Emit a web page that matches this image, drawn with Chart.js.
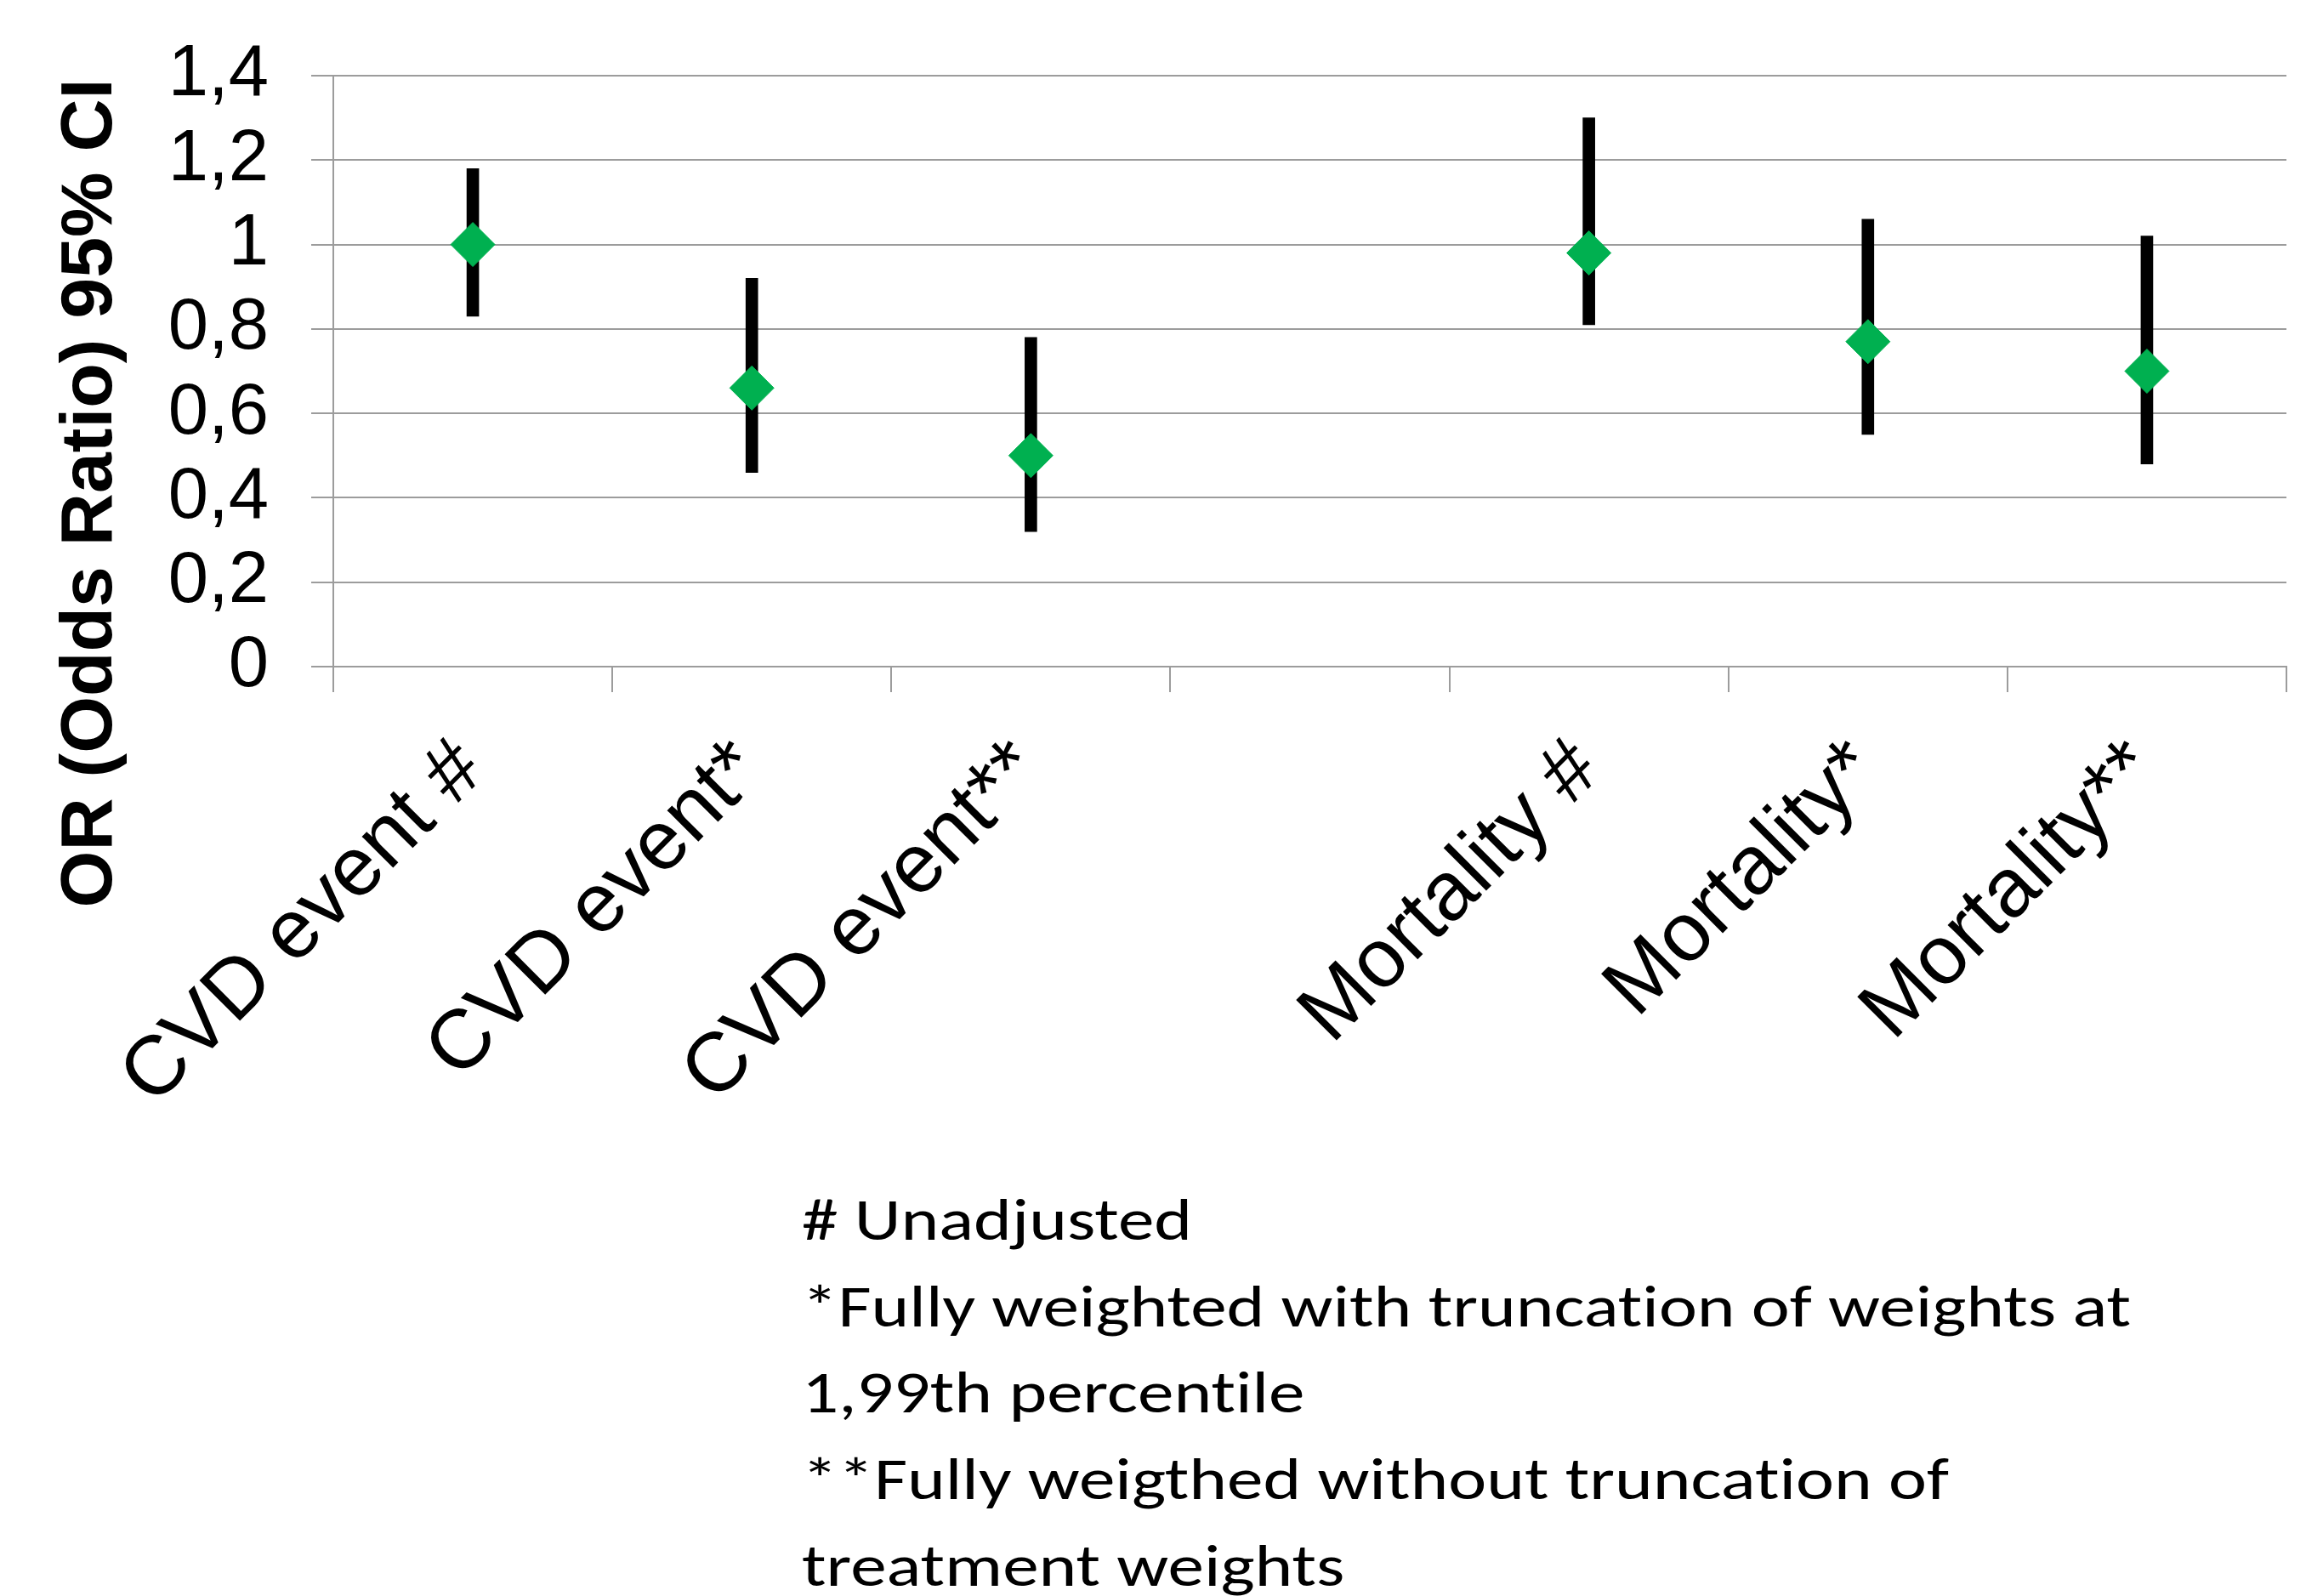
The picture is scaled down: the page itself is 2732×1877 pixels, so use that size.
<!DOCTYPE html>
<html><head><meta charset="utf-8">
<script src="https://cdn.jsdelivr.net/npm/chart.js@4.4.0/dist/chart.umd.min.js"></script>
<style>
html,body{margin:0;padding:0;background:#fff;overflow:hidden}
#wrap{position:relative;width:2732px;height:1877px;background:#fff;overflow:hidden}
canvas{display:block}
#foot{position:absolute;left:943px;top:1384px;font-family:Carlito,Lato,sans-serif;font-size:70px;line-height:101.7px;color:#000;font-variant-ligatures:none;white-space:nowrap}
#foot div{transform-origin:0 0;width:max-content}
</style></head><body>
<div id="wrap"><canvas id="c" width="2732" height="1877"></canvas><div id="foot"></div></div>
<script>
// ---- data ----
const categories = ['CVD event #', 'CVD event*', 'CVD event**', '', 'Mortality #', 'Mortality*', 'Mortality**'];
const oddsRatio  = [1.00, 0.66, 0.50, null, 0.98, 0.77, 0.70];
const ciLower    = [0.83, 0.46, 0.32, null, 0.81, 0.55, 0.48];
const ciUpper    = [1.18, 0.92, 0.78, null, 1.30, 1.06, 1.02];
const yTickValues = [0, 0.2, 0.4, 0.6, 0.8, 1, 1.2, 1.4];
const yTickLabels = ['0', '0,2', '0,4', '0,6', '0,8', '1', '1,2', '1,4'];
const yAxisTitle = 'OR (Odds Ratio) 95% CI';
const footnoteLines = [
  '# Unadjusted',
  '*Fully weighted with truncation of weights at',
  '1,99th percentile',
  '**Fully weigthed without truncation of',
  'treatment weights'
];

// ---- styles ----
const GRID = '#9c9c9c';
const GREEN = '#00B050';
const ARIAL = '"Liberation Sans", Arial, sans-serif';

const ciRanges = categories.map((c, i) => (ciLower[i] == null ? null : [ciLower[i], ciUpper[i]]));

// footnote as HTML text
const foot = document.getElementById('foot');
const lineDivs = footnoteLines.map(t => {
  const d = document.createElement('div');
  d.textContent = t;
  foot.appendChild(d);
  return d;
});
const sx = 1563 / lineDivs[1].getBoundingClientRect().width;
lineDivs.forEach(d => { d.style.transform = 'scaleX(' + sx + ')'; });

const yTitlePlugin = {
  id: 'yTitle',
  afterDraw(chart) {
    const ctx = chart.ctx;
    ctx.save();
    ctx.fillStyle = '#000';
    ctx.font = 'bold 86px ' + ARIAL;
    ctx.textAlign = 'center';
    ctx.textBaseline = 'alphabetic';
    ctx.translate(131, 580);
    ctx.rotate(-Math.PI / 2);
    ctx.fillText(yAxisTitle, 0, 0);
    ctx.restore();
  }
};

new Chart(document.getElementById('c'), {
  type: 'bar',
  data: {
    labels: categories,
    datasets: [
      {
        type: 'line',
        label: 'OR',
        data: oddsRatio,
        showLine: false,
        pointStyle: 'rectRot',
        pointRadius: 26,
        pointHoverRadius: 26,
        pointBackgroundColor: GREEN,
        pointBorderColor: GREEN,
        pointBorderWidth: 1,
        order: 0
      },
      {
        type: 'bar',
        label: '95% CI',
        data: ciRanges,
        backgroundColor: '#000',
        borderWidth: 0,
        barThickness: 14,
        borderSkipped: false,
        order: 1
      }
    ]
  },
  options: {
    responsive: false,
    animation: false,
    devicePixelRatio: 1,
    layout: { padding: { top: 89, right: 43, left: 0, bottom: 0 } },
    plugins: { legend: { display: false }, tooltip: { enabled: false }, title: { display: false } },
    scales: {
      x: {
        type: 'category',
        offset: true,
        grid: { offset: true, drawOnChartArea: false, drawTicks: true, tickLength: 30, color: GRID, lineWidth: 2 },
        border: { display: true, color: GRID, width: 2 },
        ticks: {
          autoSkip: false, minRotation: 45, maxRotation: 45,
          color: '#000', font: { family: ARIAL, size: 98, lineHeight: 1.2 },
          padding: 35, labelOffset: -2
        },
        afterFit(scale) { scale.height = 1877 - 784; }
      },
      y: {
        min: 0, max: 1.4,
        grid: { color: GRID, lineWidth: 2, tickLength: 26, drawTicks: true },
        border: { display: true, color: GRID, width: 2 },
        ticks: {
          autoSkip: false,
          stepSize: 0.2, color: '#000', padding: 50,
          font: { family: ARIAL, size: 85, lineHeight: 0.4 },
          callback(v) {
            const i = yTickValues.findIndex(t => Math.abs(t - v) < 1e-6);
            return i >= 0 ? yTickLabels[i] : '';
          }
        },
        afterFit(scale) { scale.width = 392; }
      }
    }
  },
  plugins: [yTitlePlugin]
});
</script>
</body></html>
